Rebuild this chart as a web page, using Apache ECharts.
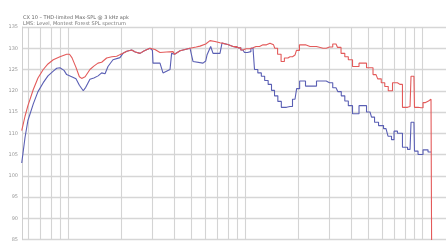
<!DOCTYPE html>
<html><head><meta charset="utf-8">
<script src="https://cdn.jsdelivr.net/npm/echarts@6/dist/echarts.min.js"></script>
<style>html,body{margin:0;padding:0;background:#fff}#c{width:446px;height:242px}</style>
</head><body><div id="c"></div>
<script>
const titleLines = ["CX 10 \u2013 THD-limited Max-SPL @ 3 kHz apk", "LMS: Level, Montest Forest SPL spectrum"];
const yTicks = [85, 90, 95, 100, 105, 110, 115, 120, 125, 130, 135];
const gridFreqs = [60,70,80,90,100,200,300,400,500,600,700,800,900,1000,2000,3000,4000,5000,6000,7000,8000,9000,10000];
const stepFrom = 900;

const redFreq = [54.8,57.2,59.4,63.7,67.7,72.5,77.1,82.6,90.1,98.3,102,105.3,111,116,119.5,125,133.1,140,147.7,155,165.4,177,188.4,196.7,204.5,215,229,240,255.2,270,290.6,310,331,360,392.1,400,430,489,530,557,600,634.3,676.8,722.4,741.5,800,855.6,920,974.3,1013,1110,1154,1264,1384,1450,1497,1560,1639,1700,1796,1916,1990,2072,2329,2759,3000,3267,3400,3578,3750,3920,4183,4642,5084,5497,5750,6022,6300,6594,7039,7500,8017,8556,8781,9000,9132,9872,10400,10530,11240,11540];
const redSPL = [110.6,114,116.5,120.3,123,125,126.3,127.3,128,128.6,128.6,127.8,125.5,123.3,122.9,123.3,125,125.8,126.5,126.7,127.7,128,128.1,128.5,128.8,129.3,129.6,129.1,128.8,129.4,130,129.7,129,129.1,129.2,128.6,129.4,130,130.3,130.5,131,131.8,131.6,131.3,131.2,130.9,130.4,130.1,129.6,129.9,130.1,130.4,130.8,131.2,130.8,130,128.6,126.9,127.7,128,128.4,129.5,130.8,130.4,130,130.3,131,130.2,128.8,128,127.3,125.7,126.5,125.4,123.8,122.8,121.9,121,120,121.9,121.5,116.1,116.3,123.4,123.4,116.1,116,117.2,117.6,118,60];

const blueFreq = [54.8,57.2,59.4,63.7,67.7,72.5,77.1,82.6,86.4,90.1,95,98.3,105,111,116,122,126,133.1,140,148,155,162,168.3,179.6,196.7,204.5,215,229,240,255.2,270,290.6,300,302.2,331,344.1,377.1,385,392.1,400,430,489,508.5,579,600,610,640,651,660,722.4,741.5,800,855.6,920,974.3,1013,1050,1110,1154,1210,1264,1320,1384,1440,1497,1570,1639,1796,1916,2000,2072,2329,2759,3000,3267,3420,3578,3750,3920,4183,4642,5084,5290,5497,5870,6260,6594,6858,7039,7500,8017,8556,8781,9000,9132,9872,10400,11240];
const blueSPL = [103,109,113,116.9,119.8,121.9,123.5,124.6,125.3,125.4,124.8,123.8,123.3,122.8,121.3,120,120.8,122.7,123,123.5,124.2,124,125.7,127.3,127.8,128.8,129.3,129.6,129.1,128.8,129.4,130,129.5,126.5,126.5,124.2,125,128.8,129.2,128.6,129.4,130,126.9,126.5,127,128.4,130.4,130.4,128.8,128.8,131.2,130.9,130.4,130.1,129.6,129,129.2,130,125,124.2,123.4,122.4,121.5,120.1,118.8,117.5,116.1,116.3,118,120.5,122.3,121.1,122.3,121.9,120.7,119.8,118.8,117.6,116.5,114.6,116.5,115,113.8,112.6,111.8,111.1,109.3,108.5,110.5,110,106.7,106.2,112.6,112.6,105.8,105,106.1,105.6];

const zip = (a, b) => a.map((f, i) => [f, b[i]]);
const lowPart = (a, b) => zip(a, b).filter((p, i, arr) => p[0] <= stepFrom || (i > 0 && arr[i - 1][0] <= stepFrom));
const highPart = (a, b) => zip(a, b).filter((p, i, arr) => p[0] >= stepFrom || (i + 1 < arr.length && arr[i + 1][0] >= stepFrom));

const BLUE = '#5a5fb4', RED = '#e35a5a';
const chart = echarts.init(document.getElementById('c'), null, {renderer: 'canvas'});
chart.setOption({
  animation: false,
  backgroundColor: '#fff',
  title: {
    text: titleLines[0], subtext: titleLines[1],
    left: 18, top: 10, itemGap: 1,
    textStyle: {fontSize: 5, fontWeight: 'normal', color: '#666', fontFamily: 'DejaVu Sans'},
    subtextStyle: {fontSize: 5, color: '#777', fontFamily: 'DejaVu Sans'}
  },
  grid: {left: 22, top: 27, width: 424, height: 216, containLabel: false},
  xAxis: {
    type: 'log', logBase: 10, min: 55, max: 13660,
    axisLine: {show: false}, axisTick: {show: false}, axisLabel: {show: false}, splitLine: {show: false}
  },
  yAxis: {
    type: 'value', min: 85, max: 135, interval: 5,
    axisLine: {show: true, lineStyle: {color: '#cfcfcf', width: 1}},
    axisTick: {show: false},
    axisLabel: {fontSize: 5, color: '#999', margin: 4, fontFamily: 'DejaVu Sans',
      formatter: v => yTicks.includes(v) ? String(v) : ''},
    splitLine: {show: true, lineStyle: {color: '#d6d6d6', width: 1.3}}
  },
  series: [
    {
      type: 'line', data: lowPart(blueFreq, blueSPL), showSymbol: false, symbol: 'none',
      lineStyle: {color: BLUE, width: 1.1}, z: 3,
      markLine: {
        silent: true, symbol: 'none', label: {show: false},
        lineStyle: {color: '#d4d4d4', type: 'solid', width: 1.1},
        data: gridFreqs.map(f => ({xAxis: f})), z: 1
      }
    },
    {
      type: 'line', data: highPart(blueFreq, blueSPL), step: 'middle', showSymbol: false, symbol: 'none',
      lineStyle: {color: BLUE, width: 1.1}, z: 3
    },
    {
      type: 'line', data: lowPart(redFreq, redSPL), showSymbol: false, symbol: 'none',
      lineStyle: {color: RED, width: 1.1}, z: 4
    },
    {
      type: 'line', data: highPart(redFreq, redSPL), step: 'middle', showSymbol: false, symbol: 'none',
      lineStyle: {color: RED, width: 1.1}, z: 4
    }
  ]
});
</script></body></html>
